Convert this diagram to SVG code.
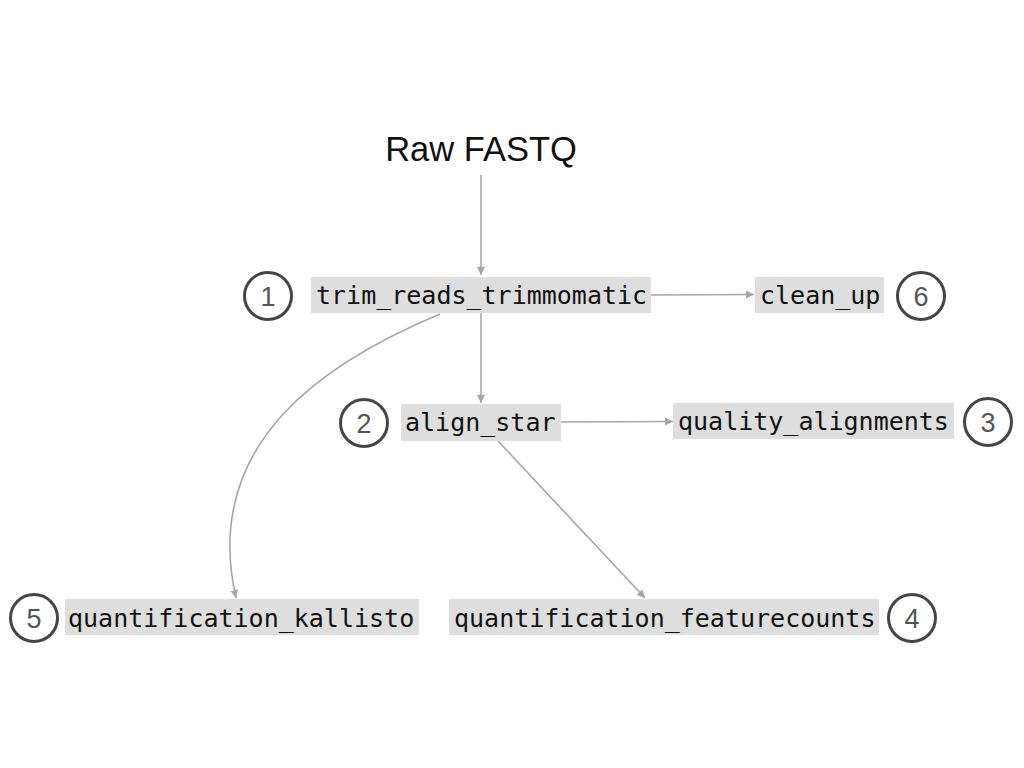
<svg xmlns="http://www.w3.org/2000/svg" width="1024" height="768" viewBox="0 0 1024 768">
<defs>
<marker id="ah" viewBox="0 0 10 10" refX="10" refY="5" markerWidth="8" markerHeight="8" markerUnits="userSpaceOnUse" orient="auto">
<path d="M0,0 L10,5 L0,10 z" fill="#a6a6a6"/>
</marker>
<style>
.box{fill:#dedede}
.lbl{font-family:"DejaVu Sans Mono",monospace;font-size:25px;fill:#111}
.num{fill:none;stroke:#464646;stroke-width:3}
.nt{font-family:"Liberation Sans",Arial,sans-serif;font-size:27px;fill:#555;text-anchor:middle}
.e{fill:none;stroke:#a6a6a6;stroke-width:1.6;marker-end:url(#ah)}
</style>
</defs>
<rect width="1024" height="768" fill="#fff"/>
<g id="raw">
<text x="481" y="161" text-anchor="middle" font-family="Liberation Sans, Arial, sans-serif" font-size="34.5" fill="#111">Raw FASTQ</text>
</g>
<g id="connectors">
<path class="e" d="M481,175 L481,275"/>
<path class="e" d="M481,313 L481,403"/>
<path class="e" d="M651,295 L754,294.5"/>
<path class="e" d="M561,422 L673,421.5"/>
<path class="e" d="M498,441 L645,598"/>
<path class="e" d="M440,314 C330,360 200,440 236,598"/>
</g>
<g id="n1">
<rect class="box" x="311" y="277" width="340" height="36"/>
<text class="lbl" x="316" y="304">trim_reads_trimmomatic</text>
<circle class="num" cx="268" cy="296" r="23.5"/>
<text class="nt" x="268" y="306">1</text>
</g>
<g id="n6">
<rect class="box" x="755" y="277" width="129" height="36"/>
<text class="lbl" x="760" y="304">clean_up</text>
<circle class="num" cx="921" cy="296" r="23.5"/>
<text class="nt" x="921" y="306">6</text>
</g>
<g id="n2">
<rect class="box" x="401" y="404" width="160" height="37"/>
<text class="lbl" x="405" y="431">align_star</text>
<circle class="num" cx="364" cy="423" r="23.5"/>
<text class="nt" x="364" y="433">2</text>
</g>
<g id="n3">
<rect class="box" x="673" y="403" width="281" height="36"/>
<text class="lbl" x="678" y="430">quality_alignments</text>
<circle class="num" cx="988" cy="422" r="23.5"/>
<text class="nt" x="988" y="432">3</text>
</g>
<g id="n5">
<rect class="box" x="65" y="599" width="354" height="36"/>
<text class="lbl" x="68" y="627">quantification_kallisto</text>
<circle class="num" cx="34" cy="618" r="23.5"/>
<text class="nt" x="34" y="628">5</text>
</g>
<g id="n4">
<rect class="box" x="449" y="599" width="430" height="36"/>
<text class="lbl" x="454" y="627">quantification_featurecounts</text>
<circle class="num" cx="912" cy="618" r="23.5"/>
<text class="nt" x="912" y="628">4</text>
</g>
</svg>
